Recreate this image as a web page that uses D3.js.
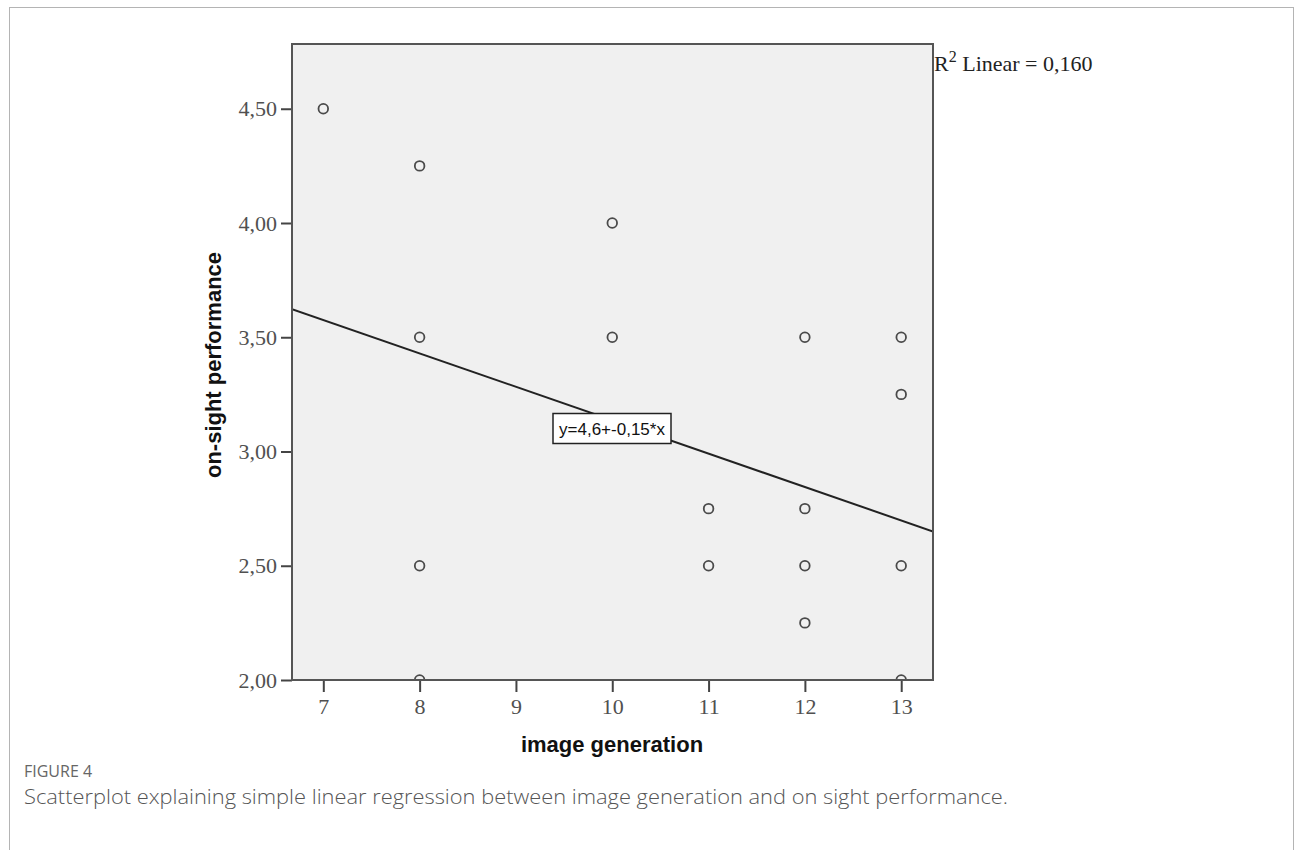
<!DOCTYPE html>
<html>
<head>
<meta charset="utf-8">
<script src="https://cdn.jsdelivr.net/npm/d3@7"></script>
<style>
  body { margin: 0; background: #fff; }
  svg { display: block; }
</style>
</head>
<body>
<script>
// image generation (x) and on-sight performance (y), one entry per subject
var imageGen = [7, 8, 8, 8, 8, 10, 10, 11, 11, 12, 12, 12, 12, 13, 13, 13, 13]
var onSight = [4.50, 4.25, 3.50, 2.50, 2.00, 4.00, 3.50, 2.75, 2.50, 3.50, 2.75, 2.50, 2.25, 3.50, 3.25, 2.50, 2.00]
var xTicks = [7, 8, 9, 10, 11, 12, 13]
var yTicks = [2.00, 2.50, 3.00, 3.50, 4.00, 4.50]
var fitIntercept = 4.599
var fitSlope = -0.1462
var fitLabel = 'y=4,6+-0,15*x'
var r2Value = '0,160'

var width = 1295
var height = 850
var plot = { left: 292, top: 44, right: 933, bottom: 680 }

var svg = d3.select('body').append('svg')
  .attr('width', width)
  .attr('height', height)

// outer figure frame
svg.append('rect')
  .attr('x', 9.5)
  .attr('y', 7.5)
  .attr('width', 1284)
  .attr('height', 860)
  .style('fill', 'none')
  .style('stroke', '#b4b4b4')
  .style('stroke-width', 1)

var x = d3.scaleLinear()
  .domain([6.675, 13.33])
  .range([plot.left, plot.right])

var y = d3.scaleLinear()
  .domain([2, 2 + (plot.bottom - plot.top) / 228.5])
  .range([plot.bottom, plot.top])

svg.append('defs').append('clipPath')
  .attr('id', 'plotClip')
  .append('rect')
  .attr('x', plot.left)
  .attr('y', plot.top)
  .attr('width', plot.right - plot.left)
  .attr('height', plot.bottom - plot.top)

svg.append('rect')
  .attr('x', plot.left)
  .attr('y', plot.top)
  .attr('width', plot.right - plot.left)
  .attr('height', plot.bottom - plot.top)
  .style('fill', '#f0f0f0')

var fmt = function (d) { return d3.format('.2f')(d).replace('.', ',') }

var xAxis = svg.append('g')
  .attr('transform', 'translate(0,' + plot.bottom + ')')
  .call(d3.axisBottom(x).tickValues(xTicks).tickSize(12).tickPadding(6).tickFormat(d3.format('d')))

var yAxis = svg.append('g')
  .attr('transform', 'translate(' + plot.left + ',0)')
  .call(d3.axisLeft(y).tickValues(yTicks).tickSize(11).tickPadding(4).tickFormat(fmt))

;[xAxis, yAxis].forEach(function (ax) {
  ax.select('.domain').remove()
  ax.selectAll('line').style('stroke', '#444').style('stroke-width', 2)
  ax.selectAll('text')
    .style('font-family', '"Liberation Serif", "DejaVu Serif", serif')
    .style('font-size', '22px')
    .style('fill', '#505050')
})

var inner = svg.append('g').attr('clip-path', 'url(#plotClip)')

// fit line
inner.append('line')
  .attr('x1', x(x.domain()[0]))
  .attr('y1', y(fitIntercept + fitSlope * x.domain()[0]))
  .attr('x2', x(x.domain()[1]))
  .attr('y2', y(fitIntercept + fitSlope * x.domain()[1]))
  .style('stroke', '#222')
  .style('stroke-width', 2)

inner.selectAll('circle')
  .data(imageGen)
  .enter().append('circle')
  .attr('cx', function (d) { return x(d) })
  .attr('cy', function (d, i) { return y(onSight[i]) })
  .attr('r', 4.8)
  .style('fill', 'none')
  .style('stroke', '#4a4a4a')
  .style('stroke-width', 1.8)

// plot frame
svg.append('rect')
  .attr('x', plot.left)
  .attr('y', plot.top)
  .attr('width', plot.right - plot.left)
  .attr('height', plot.bottom - plot.top)
  .style('fill', 'none')
  .style('stroke', '#555')
  .style('stroke-width', 2)

// equation label
var lab = svg.append('g')
lab.append('rect')
  .attr('x', 553)
  .attr('y', 413.5)
  .attr('width', 118)
  .attr('height', 30)
  .style('fill', '#fff')
  .style('stroke', '#222')
  .style('stroke-width', 1.5)
lab.append('text')
  .attr('x', 612)
  .attr('y', 435)
  .attr('text-anchor', 'middle')
  .style('font-family', '"Liberation Sans", Arial, sans-serif')
  .style('font-size', '17px')
  .style('fill', '#111')
  .text(fitLabel)

// R2 note
var r2 = svg.append('text')
  .attr('x', 934)
  .attr('y', 71)
  .style('font-family', '"Liberation Serif", "DejaVu Serif", serif')
  .style('font-size', '22px')
  .style('fill', '#222')
r2.append('tspan').text('R')
r2.append('tspan').attr('dy', -9).style('font-size', '16px').text('2')
r2.append('tspan').attr('dy', 9).text(' Linear = ' + r2Value)

// axis titles
svg.append('text')
  .attr('x', 612)
  .attr('y', 752)
  .attr('text-anchor', 'middle')
  .style('font-family', '"Liberation Sans", Arial, sans-serif')
  .style('font-weight', 'bold')
  .style('font-size', '22px')
  .style('fill', '#111')
  .text('image generation')

svg.append('text')
  .attr('transform', 'translate(221,365) rotate(-90)')
  .attr('text-anchor', 'middle')
  .style('font-family', '"Liberation Sans", Arial, sans-serif')
  .style('font-weight', 'bold')
  .style('font-size', '22px')
  .style('fill', '#111')
  .text('on-sight performance')

// caption
svg.append('text')
  .attr('x', 24)
  .attr('y', 777)
  .style('font-family', '"Open Sans", "Noto Sans", sans-serif')
  .style('font-size', '16px')
  .style('fill', '#666')
  .text('FIGURE 4')

svg.append('text')
  .attr('x', 24)
  .attr('y', 804)
  .attr('textLength', 984)
  .attr('lengthAdjust', 'spacingAndGlyphs')
  .style('font-family', '"Open Sans", "Noto Sans", sans-serif')
  .style('font-size', '20px')
  .style('font-weight', 300)
  .style('fill', '#555')
  .text('Scatterplot explaining simple linear regression between image generation and on sight performance.')
</script>
</body>
</html>
